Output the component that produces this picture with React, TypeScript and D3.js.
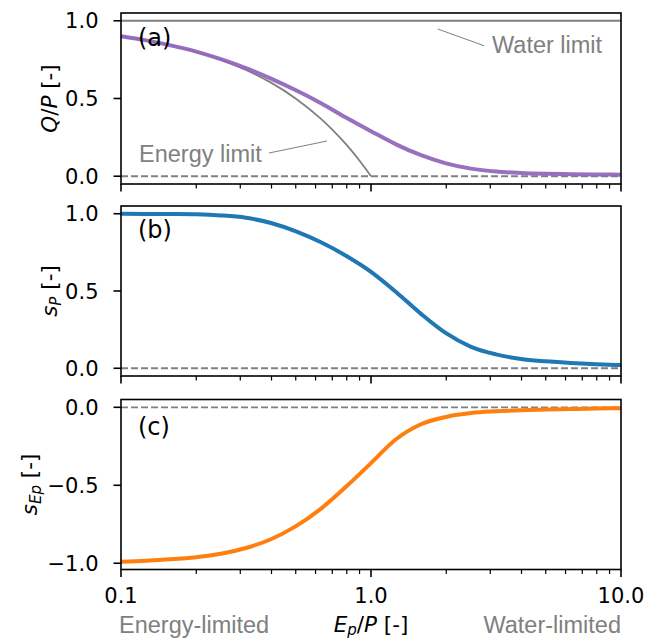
import React from 'react';
import * as d3 from 'd3';

// ---- data ----
const xMajorTicks = [0.1, 1, 10];
const xMajorLabels = ['0.1', '1.0', '10.0'];
const xMinorTicks = [0.2, 0.3, 0.4, 0.5, 0.6, 0.7, 0.8, 0.9, 2, 3, 4, 5, 6, 7, 8, 9];

// sample positions (Ep/P) at which the curves were read
const phi = [0.1, 0.126, 0.158, 0.2, 0.251, 0.316, 0.398, 0.501, 0.631, 0.794, 1.0, 1.259, 1.585, 1.995, 2.512, 3.162, 3.981, 5.012, 6.31, 7.943, 10];

// panel (a): Q/P
const qpY = [0.9, 0.874, 0.842, 0.802, 0.753, 0.695, 0.628, 0.553, 0.47, 0.378, 0.29, 0.205, 0.135, 0.083, 0.049, 0.03, 0.021, 0.016, 0.013, 0.011, 0.01];
// energy limit (Q/P = 1 - Ep/P) and water limit
const energyX = [0.1, 0.126, 0.158, 0.2, 0.251, 0.316, 0.398, 0.501, 0.631, 0.7, 0.794, 0.85, 0.9, 0.95, 1.0];
const energyY = [0.9, 0.874, 0.842, 0.8, 0.749, 0.684, 0.602, 0.499, 0.369, 0.3, 0.206, 0.15, 0.1, 0.05, 0.0];
const waterX = [0.1, 10];
const waterY = [1, 1];

// panel (b): s_P
const spY = [1.0, 0.999, 0.998, 0.996, 0.989, 0.974, 0.94, 0.886, 0.815, 0.728, 0.624, 0.494, 0.352, 0.227, 0.139, 0.09, 0.06, 0.045, 0.034, 0.026, 0.021];

// panel (c): s_Ep
const sepY = [-0.99, -0.984, -0.975, -0.961, -0.939, -0.902, -0.846, -0.762, -0.65, -0.51, -0.358, -0.205, -0.109, -0.062, -0.037, -0.026, -0.019, -0.014, -0.011, -0.008, -0.006];

const yTicksAB = [0, 0.5, 1];
const yLabelsAB = ['0.0', '0.5', '1.0'];
const yTicksC = [-1, -0.5, 0];
const yLabelsC = ['\u22121.0', '\u22120.5', '0.0'];

const FONT = 'DejaVu Sans';
const FONT2 = 'Liberation Sans';
const FS = 21;
const FSL = 21.5;
const FSP = 24;
const FSG = 23.5;
const GREY = '#808080';

const x = d3.scaleLog().domain([0.1, 10]).range([121, 621]);

type Panel = {
  top: number;
  bottom: number;
  domain: [number, number];
  ticks: number[];
  labels: string[];
};

const panels: Panel[] = [
  { top: 13, bottom: 184, domain: [-0.05, 1.05], ticks: yTicksAB, labels: yLabelsAB },
  { top: 206, bottom: 376, domain: [-0.05, 1.05], ticks: yTicksAB, labels: yLabelsAB },
  { top: 399.5, bottom: 569.5, domain: [-1.04, 0.05], ticks: yTicksC, labels: yLabelsC },
];

function zip(a: number[], b: number[]): [number, number][] {
  return a.map((v, i) => [v, b[i]]);
}

function Axes({ p, yScale, showXLabels }: { p: Panel; yScale: d3.ScaleLinear<number, number>; showXLabels: boolean }) {
  return (
    <g>
      {xMajorTicks.map((t, i) => (
        <g key={'M' + i}>
          <line x1={x(t)} x2={x(t)} y1={p.bottom} y2={p.bottom + 7.5} stroke="#000" strokeWidth={1.6} />
          {showXLabels && (
            <text x={x(t)} y={602.5} textAnchor="middle" fontFamily={FONT} fontSize={FS}>
              {xMajorLabels[i]}
            </text>
          )}
        </g>
      ))}
      {xMinorTicks.map((t, i) => (
        <line key={'m' + i} x1={x(t)} x2={x(t)} y1={p.bottom} y2={p.bottom + 4.5} stroke="#000" strokeWidth={1.2} />
      ))}
      {p.ticks.map((t, i) => (
        <g key={'y' + i}>
          <line x1={113.5} x2={121} y1={yScale(t)} y2={yScale(t)} stroke="#000" strokeWidth={1.6} />
          <text x={98.5} y={yScale(t)} dy="0.36em" textAnchor="end" fontFamily={FONT} fontSize={FS}>
            {p.labels[i]}
          </text>
        </g>
      ))}
    </g>
  );
}

export default function App() {
  const ys = panels.map((p) => d3.scaleLinear().domain(p.domain).range([p.bottom, p.top]));
  const mk = (s: d3.ScaleLinear<number, number>) =>
    d3
      .line<[number, number]>()
      .x((d) => x(d[0]))
      .y((d) => s(d[1]))
      .curve(d3.curveMonotoneX);

  const la = mk(ys[0]);
  const lb = mk(ys[1]);
  const lc = mk(ys[2]);
  const dashed = '7 3';

  return (
    <svg width={659} height={640} style={{ position: 'absolute', left: 0, top: 0, background: '#fff' }}>
      <rect x={0} y={0} width={659} height={640} fill="#fff" />
      {/* Panel a */}
      <g>
        <line x1={x(0.1)} x2={x(10)} y1={ys[0](0)} y2={ys[0](0)} stroke={GREY} strokeWidth={1.8} strokeDasharray={dashed} />
        <path d={la(zip(waterX, waterY)) || ''} fill="none" stroke={GREY} strokeWidth={1.8} />
        <path d={la(zip(energyX, energyY)) || ''} fill="none" stroke={GREY} strokeWidth={1.8} />
        <path d={la(zip(phi, qpY)) || ''} fill="none" stroke="#9467bd" strokeWidth={4} strokeOpacity={0.95} />
        <text x={138} y={46} fontFamily={FONT} fontSize={FSP}>(a)</text>
        <text x={492} y={53} fontFamily={FONT2} fontSize={FSG} fill={GREY}>Water limit</text>
        <line x1={437.7} y1={29} x2={484} y2={45.7} stroke={GREY} strokeWidth={1} />
        <text x={139} y={161.5} fontFamily={FONT2} fontSize={FSG} fill={GREY}>Energy limit</text>
        <line x1={269} y1={153} x2={327} y2={141} stroke={GREY} strokeWidth={1} />
        <text transform={`translate(57,${(panels[0].top + panels[0].bottom) / 2}) rotate(-90)`} textAnchor="middle" fontFamily={FONT} fontSize={FSL}>
          <tspan fontStyle="italic">Q</tspan>/<tspan fontStyle="italic">P</tspan> [-]
        </text>
        <Axes p={panels[0]} yScale={ys[0]} showXLabels={false} />
        <rect x={121} y={panels[0].top} width={500} height={panels[0].bottom - panels[0].top} fill="none" stroke="#000" strokeWidth={1.6} />
      </g>
      {/* Panel b */}
      <g>
        <line x1={x(0.1)} x2={x(10)} y1={ys[1](0)} y2={ys[1](0)} stroke={GREY} strokeWidth={1.8} strokeDasharray={dashed} />
        <path d={lb(zip(phi, spY)) || ''} fill="none" stroke="#1f77b4" strokeWidth={4} />
        <text x={138} y={238} fontFamily={FONT} fontSize={FSP}>(b)</text>
        <text transform={`translate(57,${(panels[1].top + panels[1].bottom) / 2}) rotate(-90)`} textAnchor="middle" fontFamily={FONT} fontSize={FSL}>
          <tspan fontStyle="italic">s</tspan>
          <tspan fontStyle="italic" fontSize={FSL * 0.7} dy={4}>P</tspan>
          <tspan dy={-4}> [-]</tspan>
        </text>
        <Axes p={panels[1]} yScale={ys[1]} showXLabels={false} />
        <rect x={121} y={panels[1].top} width={500} height={panels[1].bottom - panels[1].top} fill="none" stroke="#000" strokeWidth={1.6} />
      </g>
      {/* Panel c */}
      <g>
        <line x1={x(0.1)} x2={x(10)} y1={ys[2](0)} y2={ys[2](0)} stroke={GREY} strokeWidth={1.8} strokeDasharray={dashed} />
        <path d={lc(zip(phi, sepY)) || ''} fill="none" stroke="#ff7f0e" strokeWidth={4} />
        <text x={138} y={435} fontFamily={FONT} fontSize={FSP}>(c)</text>
        <text transform={`translate(37,${(panels[2].top + panels[2].bottom) / 2}) rotate(-90)`} textAnchor="middle" fontFamily={FONT} fontSize={FSL}>
          <tspan fontStyle="italic">s</tspan>
          <tspan fontStyle="italic" fontSize={FSL * 0.7} dy={4}>Ep</tspan>
          <tspan dy={-4}> [-]</tspan>
        </text>
        <Axes p={panels[2]} yScale={ys[2]} showXLabels={true} />
        <rect x={121} y={panels[2].top} width={500} height={panels[2].bottom - panels[2].top} fill="none" stroke="#000" strokeWidth={1.6} />
      </g>
      {/* bottom labels */}
      <text x={119} y={633} fontFamily={FONT2} fontSize={FSG} fill={GREY}>Energy-limited</text>
      <text x={621} y={633} textAnchor="end" fontFamily={FONT2} fontSize={FSG} fill={GREY}>Water-limited</text>
      <text x={371} y={632} textAnchor="middle" fontFamily={FONT} fontSize={FSL}>
        <tspan fontStyle="italic">E</tspan>
        <tspan fontStyle="italic" fontSize={FSL * 0.7} dy={3}>p</tspan>
        <tspan dy={-3}>/</tspan>
        <tspan fontStyle="italic">P</tspan> [-]
      </text>
    </svg>
  );
}
